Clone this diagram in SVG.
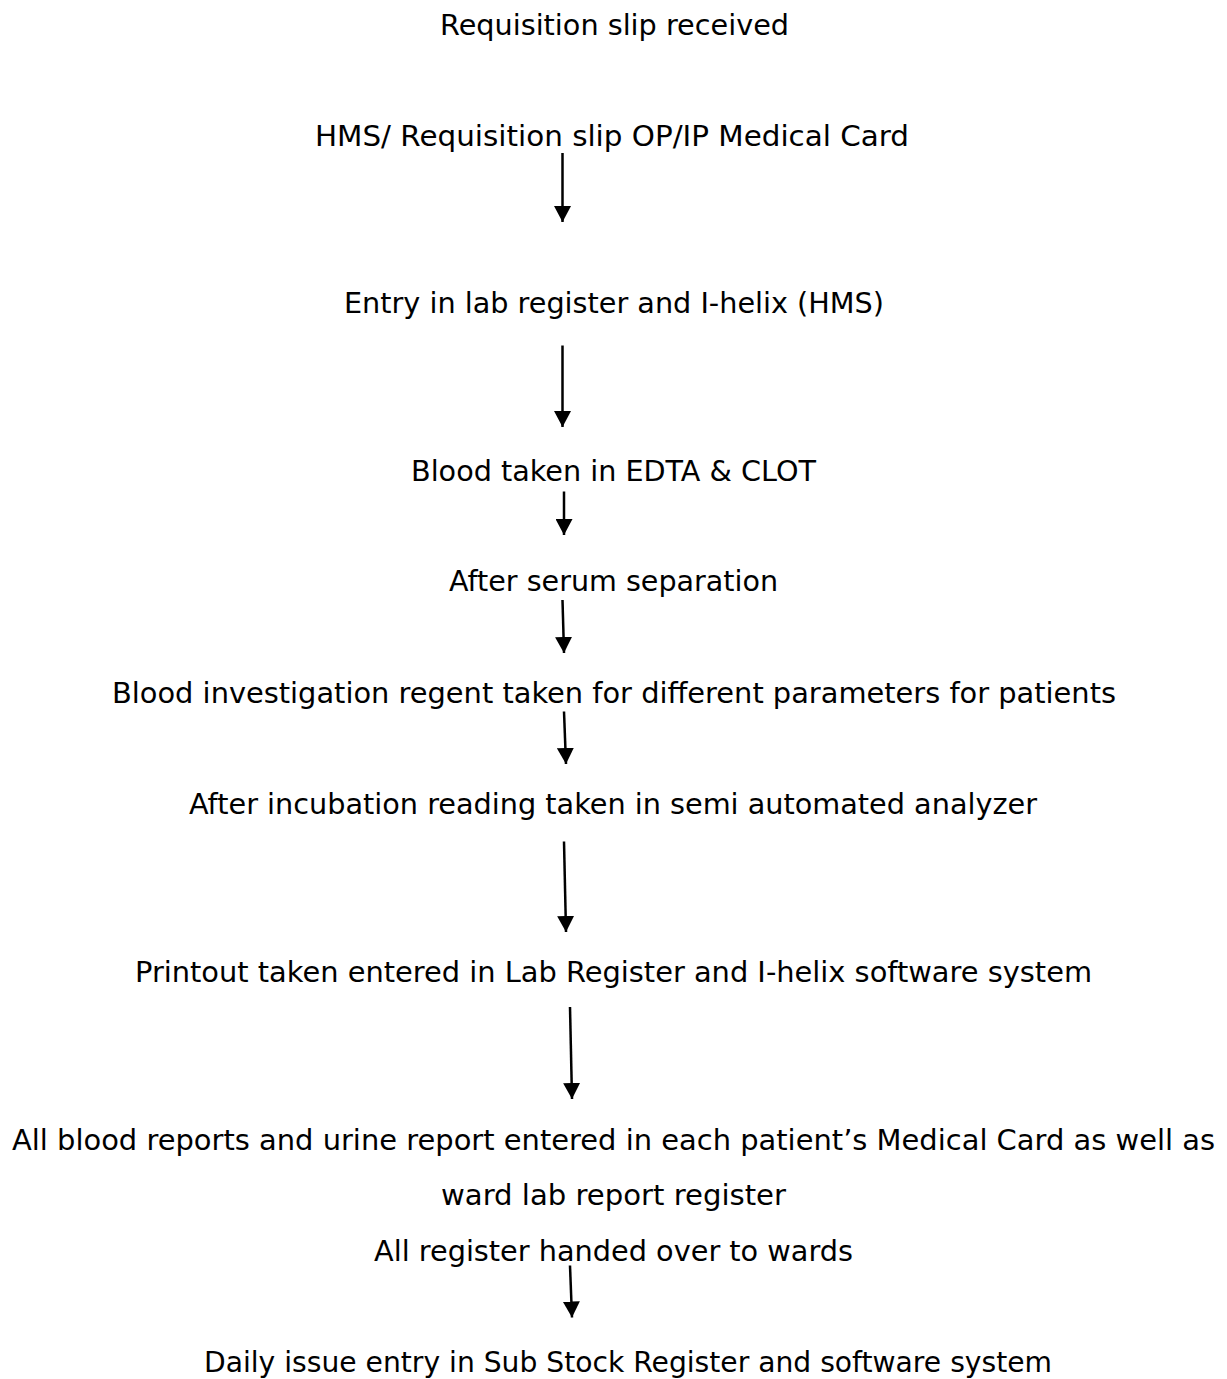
<svg xmlns="http://www.w3.org/2000/svg" width="1227" height="1379" viewBox="0 0 1227 1379">
<style>
.t{font-family:"DejaVu Sans","Liberation Sans",sans-serif;font-size:29px;fill:#000;text-anchor:middle}
.c{stroke:#000;stroke-width:2.5;fill:none;marker-end:url(#ah)}
</style>
<defs>
<marker id="ah" viewBox="0 0 16 17" refX="16" refY="8.5" markerWidth="16" markerHeight="17" markerUnits="userSpaceOnUse" orient="auto">
<path d="M0,0 L16,8.5 L0,17 Z" fill="#000"/>
</marker>
</defs>
<rect width="1227" height="1379" fill="#fff"/>
<g id="n1"><text class="t" x="614.5" y="35" textLength="349" lengthAdjust="spacingAndGlyphs">Requisition slip received</text></g>
<g id="n2"><text class="t" x="612" y="145.5" textLength="594" lengthAdjust="spacingAndGlyphs">HMS/ Requisition slip OP/IP Medical Card</text></g>
<g id="n3"><text class="t" x="614" y="313" textLength="540" lengthAdjust="spacingAndGlyphs">Entry in lab register and I-helix (HMS)</text></g>
<g id="n4"><text class="t" x="613.5" y="480.5" textLength="405" lengthAdjust="spacingAndGlyphs">Blood taken in EDTA &amp; CLOT</text></g>
<g id="n5"><text class="t" x="613.5" y="591" textLength="329" lengthAdjust="spacingAndGlyphs">After serum separation</text></g>
<g id="n6"><text class="t" x="614" y="703" textLength="1004" lengthAdjust="spacingAndGlyphs">Blood investigation regent taken for different parameters for patients</text></g>
<g id="n7"><text class="t" x="613" y="814" textLength="848" lengthAdjust="spacingAndGlyphs">After incubation reading taken in semi automated analyzer</text></g>
<g id="n8"><text class="t" x="613.5" y="981.5" textLength="957" lengthAdjust="spacingAndGlyphs">Printout taken entered in Lab Register and I-helix software system</text></g>
<g id="n9">
<text class="t" x="613.5" y="1150" textLength="1203" lengthAdjust="spacingAndGlyphs">All blood reports and urine report entered in each patient’s Medical Card as well as</text>
<text class="t" x="613.5" y="1205" textLength="345" lengthAdjust="spacingAndGlyphs">ward lab report register</text>
</g>
<g id="n10"><text class="t" x="613.5" y="1260.5" textLength="479" lengthAdjust="spacingAndGlyphs">All register handed over to wards</text></g>
<g id="n11"><text class="t" x="628" y="1372" textLength="848" lengthAdjust="spacingAndGlyphs">Daily issue entry in Sub Stock Register and software system</text></g>
<g id="connectors">
<path class="c" d="M562.5,153 L562.5,222"/>
<path class="c" d="M562.5,345.5 L562.5,427"/>
<path class="c" d="M564,491.5 L564,535"/>
<path class="c" d="M562.5,600 L564,653"/>
<path class="c" d="M564,711.5 L566,764"/>
<path class="c" d="M564,841.5 L566,932"/>
<path class="c" d="M570,1007 L572,1099"/>
<path class="c" d="M570,1265.5 L572,1317.5"/>
</g>
</svg>
